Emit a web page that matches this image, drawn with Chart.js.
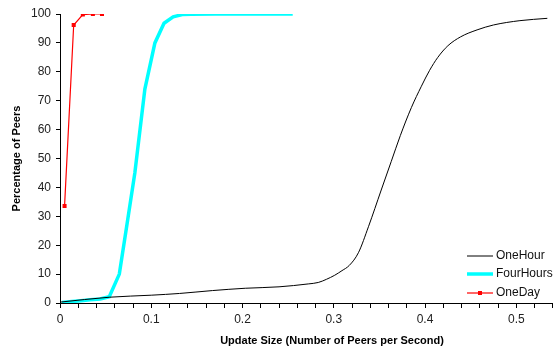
<!DOCTYPE html>
<html>
<head>
<meta charset="utf-8">
<script src="https://cdn.jsdelivr.net/npm/chart.js@4/dist/chart.umd.min.js"></script>
<style>
  html, body { margin: 0; padding: 0; background: #fff; }
  #wrap { width: 558px; height: 352px; }
</style>
</head>
<body>
<div id="wrap"><canvas id="myChart" width="558" height="352"></canvas></div>
<script>
// OneHour
const oneHourX = [0, 0.054, 0.1, 0.131, 0.167, 0.203, 0.24, 0.272, 0.283, 0.292, 0.301, 0.309, 0.317, 0.327, 0.338, 0.352, 0.363, 0.373, 0.385, 0.396, 0.405, 0.414, 0.425, 0.439, 0.457, 0.475, 0.504, 0.534];
const oneHourY = [0.3, 2.0, 2.7, 3.3, 4.3, 5.1, 5.6, 6.6, 7.1, 8.2, 9.6, 11.2, 13.0, 17.4, 26.4, 39.1, 49.0, 58.0, 67.6, 75.0, 80.5, 85.0, 89.0, 92.1, 94.5, 96.2, 97.7, 98.5];

// FourHours
const fourHoursX = [0.002, 0.013, 0.023, 0.033, 0.044, 0.054, 0.065, 0.073, 0.082, 0.093, 0.104, 0.114, 0.124, 0.134, 0.144, 0.17, 0.21, 0.255];
const fourHoursY = [0.2, 0.5, 0.8, 1.1, 1.4, 2.2, 10, 26.4, 45, 74, 90, 96.8, 99, 99.8, 99.9, 100, 100, 100];

// OneDay
const oneDayX = [0.005, 0.015, 0.025, 0.036, 0.046];
const oneDayY = [33.6, 96.2, 99.8, 100, 100];

const xTitle = "Update Size (Number of Peers per Second)";
const yTitle = "Percentage of Peers";

const fontFamily = "'Liberation Sans', Arial, sans-serif";

const toPoints = (xs, ys) => xs.map((x, i) => ({ x: x, y: ys[i] }));

// legend inside the plot (bottom right) and the x title, which sits off-centre
const extras = {
  id: "extras",
  afterDraw: (chart) => {
    const ctx = chart.ctx;
    const x0 = 467, x1 = 493;
    const rows = [256, 274, 293];
    ctx.save();
    chart.data.datasets.forEach((ds, i) => {
      const y = rows[i];
      ctx.strokeStyle = ds.borderColor;
      ctx.lineWidth = ds.borderWidth;
      ctx.beginPath();
      ctx.moveTo(x0, y);
      ctx.lineTo(x1, y);
      ctx.stroke();
      if (ds.pointRadius > 0) {
        ctx.fillStyle = ds.borderColor;
        ctx.fillRect((x0 + x1) / 2 - 2, y - 2, 4, 4);
      }
      ctx.fillStyle = "#111";
      ctx.font = "12px " + fontFamily;
      ctx.textAlign = "left";
      ctx.textBaseline = "middle";
      ctx.fillText(ds.label, x1 + 3, y);
    });

    ctx.fillStyle = "#000";
    ctx.font = "bold 11px " + fontFamily;
    ctx.textAlign = "center";
    ctx.textBaseline = "middle";
    ctx.fillText(xTitle, 332, 341);
    ctx.restore();
  }
};

const ctx = document.getElementById("myChart").getContext("2d");
const myChart = new Chart(ctx, {
  type: "line",
  data: {
    datasets: [{
      label: "OneHour",
      data: toPoints(oneHourX, oneHourY),
      borderColor: "#000000",
      borderWidth: 1,
      pointRadius: 0,
      cubicInterpolationMode: "monotone"
    }, {
      label: "FourHours",
      data: toPoints(fourHoursX, fourHoursY),
      borderColor: "#00ffff",
      borderWidth: 3.5,
      pointRadius: 0,
      tension: 0
    }, {
      label: "OneDay",
      data: toPoints(oneDayX, oneDayY),
      borderColor: "#ff0000",
      backgroundColor: "#ff0000",
      borderWidth: 1.2,
      pointStyle: "rect",
      pointRadius: 2,
      tension: 0
    }]
  },
  options: {
    responsive: false,
    animation: false,
    layout: { padding: { top: 14, right: 2, left: 0, bottom: 0 } },
    plugins: {
      legend: { display: false },
      tooltip: { enabled: false }
    },
    scales: {
      x: {
        type: "linear",
        min: 0,
        max: 0.54,
        border: { color: "#000", width: 1 },
        grid: { drawOnChartArea: false, drawTicks: true, tickLength: 5, color: "#000" },
        ticks: {
          stepSize: 0.02,
          autoSkip: false,
          maxRotation: 0,
          padding: 4,
          color: "#222",
          font: { size: 12, family: fontFamily },
          callback: (v) => {
            const r = Math.round(v * 100);
            return r % 10 === 0 ? String(r / 100) : "";
          }
        },
        afterFit: (scale) => { scale.height = 49; }
      },
      y: {
        min: 0,
        max: 100,
        border: { color: "#000", width: 1 },
        grid: { drawOnChartArea: false, drawTicks: true, tickLength: 4, color: "#000" },
        ticks: {
          stepSize: 10,
          padding: 5,
          color: "#222",
          font: { size: 12, family: fontFamily }
        },
        title: {
          display: true,
          text: yTitle,
          color: "#000",
          font: { size: 11, weight: "bold", family: fontFamily },
          padding: { top: 10, bottom: 0 }
        },
        afterFit: (scale) => { scale.width = 60; }
      }
    }
  },
  plugins: [extras]
});
</script>
</body>
</html>
